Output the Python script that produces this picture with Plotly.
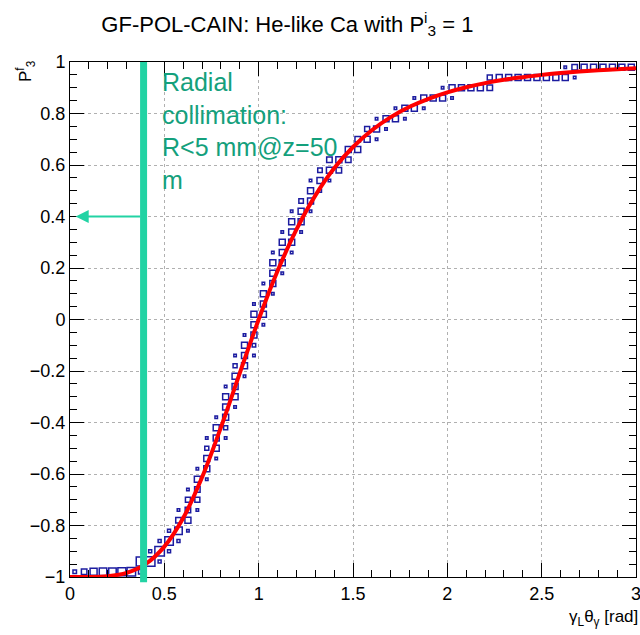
import plotly.graph_objects as go

# ---------------- data ----------------
# x-bin centres of the 2D histogram (bin width 0.05)
bin_x = [0.025, 0.075, 0.125, 0.175, 0.225, 0.275, 0.325, 0.375, 0.425, 0.475,
         0.525, 0.575, 0.625, 0.675, 0.725, 0.775, 0.825, 0.875, 0.925, 0.975,
         1.025, 1.075, 1.125, 1.175, 1.225, 1.275, 1.325, 1.375, 1.425, 1.475,
         1.525, 1.575, 1.625, 1.675, 1.725, 1.775, 1.825, 1.875, 1.925, 1.975,
         2.025, 2.075, 2.125, 2.175, 2.225, 2.275, 2.325, 2.375, 2.425, 2.475,
         2.525, 2.575, 2.625, 2.675, 2.725, 2.775, 2.825, 2.875, 2.925, 2.975]

# filled y-bins per x-bin: (y-bin centre, relative box size)
bin_cells = [
    [(-0.98, 0.35)],
    [(-0.98, 0.55)],
    [(-0.98, 0.70)],
    [(-0.98, 0.75)],
    [(-0.98, 0.75)],
    [(-0.98, 0.80)],
    [(-0.98, 0.85)],
    [(-0.98, 0.45), (-0.94, 0.90)],
    [(-0.94, 0.95), (-0.90, 0.30)],
    [(-0.94, 0.30), (-0.90, 0.95), (-0.86, 0.30)],
    [(-0.90, 0.30), (-0.86, 0.85), (-0.82, 0.30)],
    [(-0.86, 0.30), (-0.82, 0.75), (-0.78, 0.55), (-0.74, 0.25)],
    [(-0.82, 0.25), (-0.78, 0.60), (-0.74, 0.55), (-0.70, 0.50), (-0.66, 0.25)],
    [(-0.74, 0.25), (-0.70, 0.50), (-0.66, 0.55), (-0.62, 0.60), (-0.58, 0.25)],
    [(-0.62, 0.25), (-0.58, 0.60), (-0.54, 0.60), (-0.50, 0.40), (-0.46, 0.25)],
    [(-0.54, 0.25), (-0.50, 0.60), (-0.46, 0.60), (-0.42, 0.60), (-0.38, 0.25)],
    [(-0.46, 0.25), (-0.42, 0.40), (-0.38, 0.60), (-0.34, 0.60), (-0.30, 0.60), (-0.26, 0.25)],
    [(-0.34, 0.25), (-0.30, 0.60), (-0.26, 0.60), (-0.22, 0.60), (-0.18, 0.40), (-0.14, 0.25)],
    [(-0.22, 0.25), (-0.18, 0.60), (-0.14, 0.60), (-0.10, 0.60), (-0.06, 0.25)],
    [(-0.14, 0.25), (-0.10, 0.35), (-0.06, 0.60), (-0.02, 0.60), (0.02, 0.60), (0.06, 0.25)],
    [(-0.02, 0.25), (0.02, 0.60), (0.06, 0.60), (0.10, 0.60), (0.14, 0.25)],
    [(0.10, 0.25), (0.14, 0.60), (0.18, 0.60), (0.22, 0.60), (0.26, 0.25)],
    [(0.18, 0.25), (0.22, 0.60), (0.26, 0.60), (0.30, 0.60), (0.34, 0.25)],
    [(0.26, 0.25), (0.30, 0.60), (0.34, 0.60), (0.38, 0.60), (0.42, 0.25)],
    [(0.34, 0.25), (0.38, 0.60), (0.42, 0.60), (0.46, 0.45)],
    [(0.42, 0.25), (0.46, 0.60), (0.50, 0.60), (0.54, 0.25)],
    [(0.50, 0.30), (0.54, 0.60), (0.58, 0.45)],
    [(0.54, 0.25), (0.58, 0.60), (0.62, 0.55)],
    [(0.58, 0.55), (0.62, 0.60)],
    [(0.62, 0.55), (0.66, 0.60)],
    [(0.66, 0.60), (0.70, 0.55)],
    [(0.70, 0.60), (0.74, 0.50)],
    [(0.70, 0.25), (0.74, 0.60), (0.78, 0.25)],
    [(0.74, 0.25), (0.78, 0.60)],
    [(0.78, 0.60), (0.82, 0.25)],
    [(0.78, 0.25), (0.82, 0.60)],
    [(0.82, 0.60), (0.86, 0.25)],
    [(0.82, 0.25), (0.86, 0.60)],
    [(0.86, 0.60)],
    [(0.86, 0.60), (0.90, 0.25)],
    [(0.86, 0.25), (0.90, 0.60)],
    [(0.90, 0.60)],
    [(0.90, 0.60)],
    [(0.90, 0.60)],
    [(0.90, 0.55), (0.94, 0.50)],
    [(0.94, 0.60)],
    [(0.94, 0.60)],
    [(0.94, 0.60)],
    [(0.94, 0.60)],
    [(0.94, 0.60)],
    [(0.94, 0.60)],
    [(0.94, 0.60)],
    [(0.94, 0.60), (0.98, 0.25)],
    [(0.94, 0.25), (0.98, 0.55)],
    [(0.98, 0.60)],
    [(0.98, 0.60)],
    [(0.98, 0.60)],
    [(0.98, 0.60)],
    [(0.98, 0.60)],
    [(0.98, 0.60)],
]

# fitted curve
fit_x = [0.0, 0.1, 0.2, 0.3, 0.4, 0.5, 0.6, 0.7, 0.8, 0.9, 1.0, 1.1, 1.2, 1.3, 1.4,
         1.5, 1.6, 1.7, 1.8, 1.9, 2.0, 2.1, 2.2, 2.3, 2.4, 2.5, 2.6, 2.7, 2.8, 2.9, 3.0]
fit_y = [-1.000, -1.000, -0.997, -0.984, -0.950, -0.882, -0.771, -0.613, -0.419, -0.208,
         0.000, 0.188, 0.349, 0.481, 0.587, 0.670, 0.735, 0.786, 0.826, 0.857,
         0.882, 0.902, 0.918, 0.931, 0.941, 0.950, 0.957, 0.963, 0.968, 0.972, 0.976]

x_ticks = [0, 0.5, 1, 1.5, 2, 2.5, 3]
x_tick_labels = ["0", "0.5", "1", "1.5", "2", "2.5", "3"]
y_ticks = [-1, -0.8, -0.6, -0.4, -0.2, 0, 0.2, 0.4, 0.6, 0.8, 1]
y_tick_labels = ["\u22121", "\u22120.8", "\u22120.6", "\u22120.4", "\u22120.2", "0",
                 "0.2", "0.4", "0.6", "0.8", "1"]

cut_x = 0.39          # collimation cut position
arrow_y = 0.4
note_text = "Radial<br>collimation:<br>R&lt;5 mm@z=50<br>m"

# ---------------- figure ----------------
BIN_PX = 10.0
px_x, px_y, px_s = [], [], []
for xc, cells in zip(bin_x, bin_cells):
    for yc, s in cells:
        px_x.append(xc)
        px_y.append(yc)
        px_s.append(max(2.2, s * BIN_PX))

FONT = "Liberation Sans, Arial, sans-serif"
TEAL = "#22d3a4"
TEXT_TEAL = "#14a07c"
BLUE = "#1c1ca0"

fig = go.Figure()
fig.add_trace(go.Scatter(
    x=px_x, y=px_y, mode="markers",
    marker=dict(symbol="square-open", size=px_s, color=BLUE, opacity=1,
                line=dict(width=1.5, color=BLUE)),
    hoverinfo="skip", showlegend=False))
fig.add_trace(go.Scatter(
    x=fit_x, y=fit_y, mode="lines", line=dict(color="#ff0000", width=4, shape="spline"),
    hoverinfo="skip", showlegend=False))

L, R, T, B = 70, 4, 62, 58
W, H = 640, 635

fig.add_shape(type="line", xref="paper", yref="paper",
              x0=cut_x / 3.0, x1=cut_x / 3.0, y0=-0.01, y1=1.0,
              line=dict(color=TEAL, width=7), layer="above")

fig.add_annotation(x=0.03, y=arrow_y, ax=cut_x - 0.01, ay=arrow_y, xref="x", yref="y",
                   axref="x", ayref="y", showarrow=True, arrowhead=2, arrowsize=1.3,
                   arrowwidth=2, arrowcolor=TEAL, text="")

fig.add_annotation(x=0.475, y=0.985, xref="x", yref="y", xanchor="left", yanchor="top",
                   text=note_text, showarrow=False, align="left",
                   font=dict(family=FONT, size=25, color=TEXT_TEAL))

fig.add_annotation(x=(25 - L) / (W - L - R), y=(H - B - 58) / (H - T - B),
                   xref="paper", yref="paper", xanchor="center", yanchor="top",
                   text="P<sup>f</sup><sub>3</sub>", textangle=-90, showarrow=False,
                   font=dict(family=FONT, size=17, color="black"))

fig.add_annotation(x=1.007, y=(H - B - 618) / (H - T - B), xref="paper", yref="paper",
                   xanchor="right", yanchor="middle",
                   text="\u03b3<sub>L</sub>\u03b8<sub>\u03b3</sub> [rad]", showarrow=False,
                   font=dict(family=FONT, size=17, color="black"))

axis_common = dict(showline=True, linecolor="black", linewidth=1, mirror="allticks",
                   ticks="inside", tickcolor="black", ticklen=14, tickwidth=1,
                   showgrid=True, gridcolor="#b0b0b0", griddash="dot", gridwidth=1,
                   zeroline=False, automargin=False, ticklabeloverflow="allow",
                   tickfont=dict(family=FONT, size=18, color="black"))

fig.update_layout(
    width=W, height=H,
    margin=dict(l=L, r=R, t=T, b=B),
    paper_bgcolor="white", plot_bgcolor="white",
    title=dict(text="GF-POL-CAIN: He-like Ca with P<sup>i</sup><sub>3</sub> = 1",
               x=0.449, xanchor="center", y=0.962, yanchor="middle",
               font=dict(family=FONT, size=22, color="black")),
    xaxis=dict(range=[0, 3], tickvals=x_ticks, ticktext=x_tick_labels,
               minor=dict(ticks="inside", ticklen=7, dtick=0.1, tickcolor="black",
                          showgrid=False),
               **axis_common),
    yaxis=dict(range=[-1, 1], tickvals=y_ticks, ticktext=y_tick_labels,
               minor=dict(ticks="inside", ticklen=7, dtick=0.05, tickcolor="black",
                          showgrid=False),
               **axis_common),
)

fig.write_html("out.html", config={"displayModeBar": False},
               post_script="document.body.style.margin='0px';"
                           "document.body.style.overflow='hidden';")
